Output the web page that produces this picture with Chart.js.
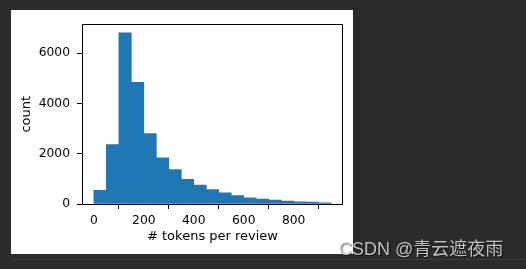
<!DOCTYPE html>
<html>
<head>
<meta charset="utf-8">
<script src="https://cdn.jsdelivr.net/npm/chart.js@4.4.1/dist/chart.umd.min.js"></script>
<style>
  html, body { margin: 0; padding: 0; background: #2b2b2b; }
  body { width: 526px; height: 269px; position: relative; overflow: hidden; }
  #panel { position: absolute; left: 11px; top: 10px; width: 342px; height: 244px; background: #fff; }
  #rule { position: absolute; left: 11px; top: 259px; width: 515px; height: 1px; background: #3d3d3d; }
  #mark {
    position: absolute; left: 339px; top: 240px;
    font: 18px/18px "Liberation Sans", "Noto Sans CJK SC", sans-serif;
    color: rgba(205,205,205,0.92); text-shadow: 1px 1px 1px rgba(0,0,0,0.55);
    white-space: nowrap;
  }
</style>
</head>
<body>
<div id="panel"><canvas id="hist" width="342" height="244"></canvas></div>
<div id="rule"></div>
<div id="mark">CSDN @青云遮夜雨</div>
<script>
// histogram bins: 50 tokens wide
const binStarts = [0, 50, 100, 150, 200, 250, 300, 350, 400, 450, 500, 550, 600, 650, 700, 750, 800, 850, 900];
const binWidth = 50;
const counts = [540, 2360, 6800, 4840, 2800, 1840, 1370, 980, 750, 570, 440, 335, 245, 195, 155, 118, 90, 78, 50];
const xTicks = [0, 200, 400, 600, 800];
const yTicks = [0, 2000, 4000, 6000];

const TICK_FONT = { family: 'DejaVu Sans', size: 12.3 };
const TITLE_FONT = { family: 'DejaVu Sans', size: 13 };

// matplotlib-style box around the axes
const spines = {
  id: 'spines',
  afterDatasetsDraw(chart) {
    const { ctx, chartArea: a } = chart;
    ctx.save();
    ctx.strokeStyle = '#000';
    ctx.lineWidth = 1;
    ctx.strokeRect(Math.round(a.left) + 0.5, Math.round(a.top) + 0.5,
      Math.round(a.right - a.left) - 1, Math.round(a.bottom - a.top));
    ctx.restore();
  }
};

const ctx = document.getElementById('hist');
new Chart(ctx, {
  type: 'bar',
  data: {
    datasets: [{
      data: binStarts.map((s, i) => ({ x: s + binWidth / 2, y: counts[i] })),
      backgroundColor: '#1f77b4',
      borderWidth: 0,
      barPercentage: 1,
      categoryPercentage: 1,
    }]
  },
  options: {
    responsive: false,
    animation: false,
    layout: { padding: { top: 9, right: 10, left: 0, bottom: 0 } },
    plugins: { legend: { display: false }, tooltip: { enabled: false } },
    scales: {
      x: {
        type: 'linear',
        offset: false,
        min: -47.5,
        max: 997.5,
        afterBuildTicks: s => { s.ticks = xTicks.map(v => ({ value: v })); },
        afterFit: s => { s.height = 50; },
        grid: { display: true, drawOnChartArea: false, tickLength: 5, tickColor: '#000' },
        border: { display: false },
        ticks: { font: TICK_FONT, color: '#000', padding: 4, maxRotation: 0, callback: v => String(v) },
        title: { display: true, text: '# tokens per review', font: TITLE_FONT, color: '#000', padding: { top: 0, bottom: 10 } }
      },
      y: {
        min: 0,
        max: 7140,
        afterBuildTicks: s => { s.ticks = yTicks.map(v => ({ value: v })); },
        afterFit: s => { s.width = 71; },
        grid: { display: true, drawOnChartArea: false, tickLength: 5, tickColor: '#000' },
        border: { display: false },
        ticks: { font: TICK_FONT, color: '#000', padding: 7, callback: v => String(v) },
        title: { display: true, text: 'count', font: TITLE_FONT, color: '#000', padding: { top: 8, bottom: 0 } }
      }
    }
  },
  plugins: [spines]
});
</script>
</body>
</html>
